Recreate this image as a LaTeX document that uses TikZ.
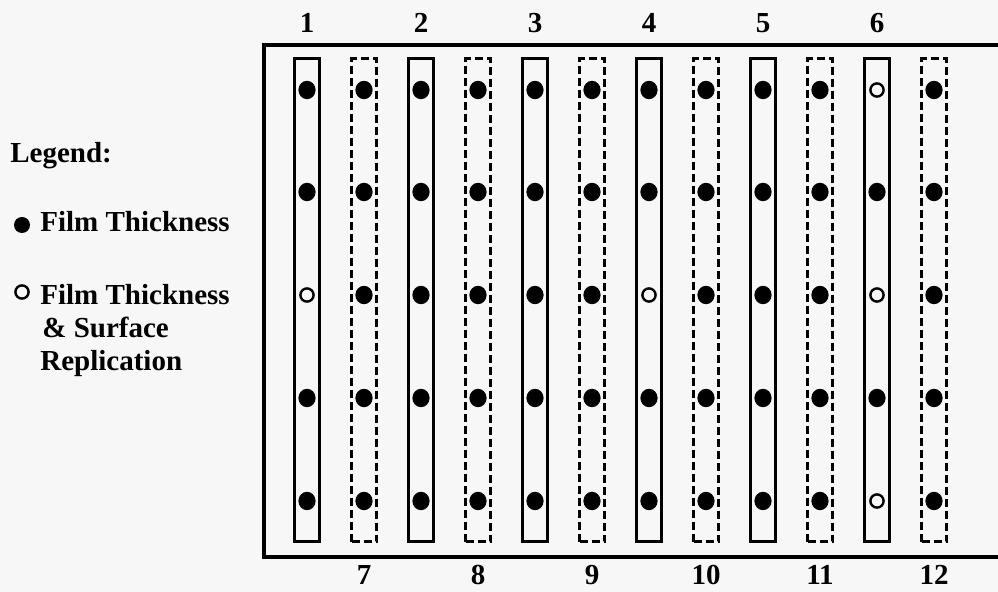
\documentclass[tikz,border=0pt]{standalone}
\usepackage{fontspec}
\setmainfont{Liberation Serif}
\usetikzlibrary{shapes.geometric}
\definecolor{paper}{HTML}{F7F7F7}
\begin{document}
\begin{tikzpicture}[x=0.5pt,y=-0.5pt,
  lbl/.style={font=\bfseries\fontsize{14.5}{17}\selectfont, inner sep=0pt, anchor=base},
  legtext/.style={font=\bfseries\fontsize{14.5}{17}\selectfont, inner sep=0pt, anchor=base west},
  stripbox/.style={rectangle, draw, line width=1.5pt, minimum width=12.5pt, minimum height=241.5pt, inner sep=0pt},
  solidstrip/.style={stripbox},
  dashedstrip/.style={stripbox, dash pattern=on 4pt off 2pt},
  fdot/.style={ellipse, fill=black, inner sep=0pt, minimum width=8.6pt, minimum height=9.2pt},
  hdot/.style={circle, draw=black, line width=1.2pt, inner sep=0pt, minimum size=6.6pt},
  frame/.style={line width=2pt}]
\fill[paper] (0,0) rectangle (998,592);
\useasboundingbox (0,0) rectangle (998,592);
% outer frame (open on the right, runs off the picture)
\draw[frame] (998,45.5) -- (263.5,45.5) -- (263.5,557.5) -- (998,557.5);
% strips and labels
\foreach \n/\k in {1/0,2/2,3/4,4/6,5/8,6/10} {
  \node[solidstrip] (strip\n) at ({307+57*\k},300.5) {};
  \node[lbl] (num\n) at ({307+57*\k},33) {\n};
}
\foreach \n/\k in {7/1,8/3,9/5,10/7,11/9,12/11} {
  \node[dashedstrip] (strip\n) at ({307+57*\k},300.5) {};
  \node[lbl] (num\n) at ({307+57*\k},585) {\n};
}
% measurement points
\foreach \n/\k in {1/0,7/1,2/2,8/3,3/4,9/5,4/6,10/7,5/8,11/9,6/10,12/11} {
  \foreach \r/\y in {1/90,2/192,3/295,4/398,5/501} {
    \pgfmathtruncatemacro\h{((\n==1)&&(\r==3)) || ((\n==4)&&(\r==3)) || ((\n==6)&&(\r!=2)&&(\r!=4))}
    \ifnum\h=1
      \node[hdot] (dot\n-\r) at ({307+57*\k},\y) {};
    \else
      \node[fdot] (dot\n-\r) at ({307+57*\k},\y) {};
    \fi
  }
}
% legend
\node[legtext] (legend) at (10,163) {Legend:};
\node[fdot, minimum width=8pt, minimum height=8pt] (legfilled) at (22,225) {};
\node[legtext] (legft) at (40,232) {Film Thickness};
\node[hdot] (leghollow) at (22,292) {};
\node[legtext] (legft2) at (40,305) {Film Thickness};
\node[legtext] (legsurf) at (42,338) {\& Surface};
\node[legtext] (legrep) at (40,371) {Replication};
\end{tikzpicture}
\end{document}
